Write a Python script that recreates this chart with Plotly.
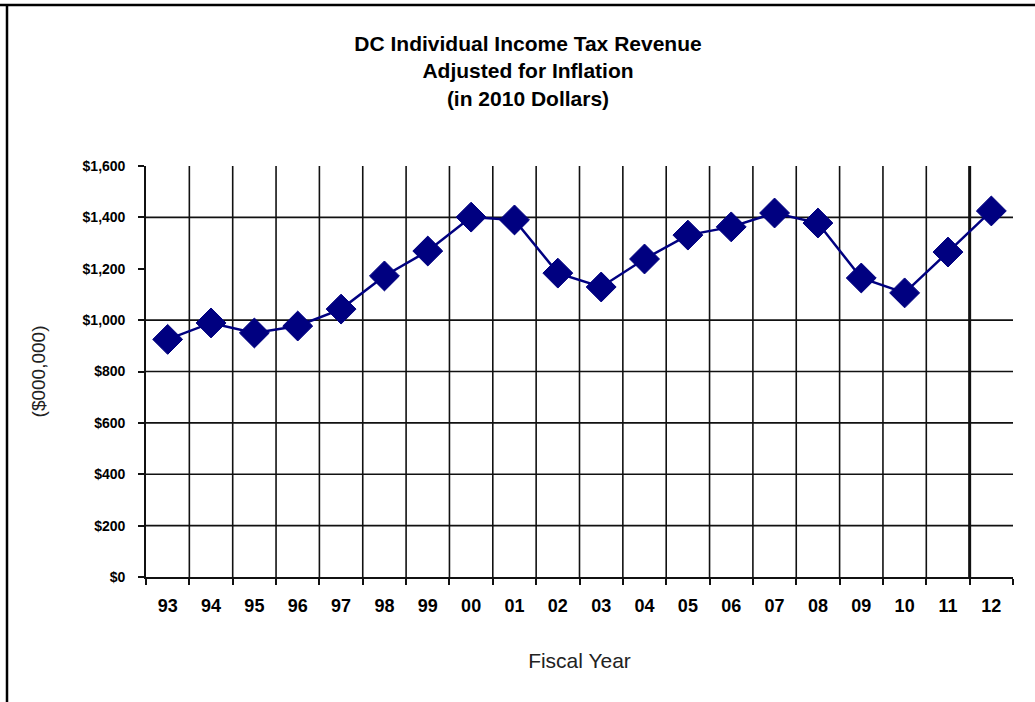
import plotly.graph_objects as go

years = ["93", "94", "95", "96", "97", "98", "99", "00", "01", "02",
         "03", "04", "05", "06", "07", "08", "09", "10", "11", "12"]
revenue = [925, 989, 950, 977, 1043, 1172, 1269, 1401, 1390, 1183,
           1129, 1238, 1331, 1363, 1417, 1378, 1164, 1106, 1265, 1425]
y_ticks = [0, 200, 400, 600, 800, 1000, 1200, 1400, 1600]
y_ticktext = ["$0", "$200", "$400", "$600", "$800", "$1,000", "$1,200", "$1,400", "$1,600"]
h_grid = [200, 400, 600, 800, 1000, 1400]

xs = list(range(len(years)))
FONT = "Liberation Sans, Arial, sans-serif"

fig = go.Figure()
fig.add_trace(go.Scatter(
    x=xs, y=revenue, mode="lines+markers",
    line=dict(color="#000080", width=2.5),
    marker=dict(symbol="diamond", size=23, color="#000080",
                line=dict(color="#000080", width=1)),
    showlegend=False, hoverinfo="skip"))

shapes = []
for v in h_grid:
    shapes.append(dict(type="line", xref="paper", yref="y", x0=0, x1=1, y0=v, y1=v,
                       line=dict(color="#111111", width=1.6), layer="below"))
for i in range(len(years) - 1):
    b = i + 0.5
    shapes.append(dict(type="line", xref="x", yref="paper", x0=b, x1=b, y0=0, y1=1,
                       line=dict(color="#111111", width=3 if i == len(years) - 2 else 1.6),
                       layer="below"))
# outer frame (top and left)
shapes.append(dict(type="line", xref="paper", yref="paper", x0=-146/867, x1=1.1,
                   y0=1 + 161/411, y1=1 + 161/411, line=dict(color="black", width=2.5)))
shapes.append(dict(type="line", xref="paper", yref="paper", x0=-139/867, x1=-139/867,
                   y0=1 + 161/411, y1=-0.4, line=dict(color="black", width=2.5)))

fig.update_layout(
    width=1035, height=702,
    margin=dict(l=146, r=22, t=166, b=125, autoexpand=False),
    paper_bgcolor="white", plot_bgcolor="white",
    font=dict(family=FONT, color="black"),
    title=dict(text="<b>DC Individual Income Tax Revenue<br>Adjusted for Inflation<br>(in 2010 Dollars)</b>",
               x=528/1035, xanchor="center", xref="container",
               y=1 - 51/702, yanchor="top",
               font=dict(size=21, family=FONT, color="black")),
    xaxis=dict(range=[-0.5, len(years) - 0.5], tickvals=xs, ticktext=years,
               ticks="", showgrid=False, zeroline=False,
               showline=True, linecolor="#111111", linewidth=1.6,
               tickfont=dict(size=18, family=FONT, color="black", weight="bold"),
               ticklabelstandoff=12,
               minor=dict(tickvals=[i - 0.5 for i in range(len(years) + 1)],
                          ticks="outside", ticklen=6, tickcolor="#111111", tickwidth=1.6,
                          showgrid=False),
               title=dict(text="Fiscal Year", standoff=38,
                          font=dict(size=21, family=FONT, color="#222222")),
               fixedrange=True),
    yaxis=dict(range=[0, 1600], tickvals=y_ticks, ticktext=y_ticktext,
               ticks="outside", ticklen=6, tickcolor="#111111", tickwidth=1.6,
               showgrid=False, zeroline=False,
               showline=True, linecolor="#111111", linewidth=1.6,
               tickfont=dict(size=14, family=FONT, color="black", weight="bold"),
               ticklabelstandoff=10,
               title=dict(text="($000,000)", standoff=32,
                          font=dict(size=19, family=FONT, color="#222222")),
               fixedrange=True),
    shapes=shapes,
)

fig.write_html("out.html", config={"displayModeBar": False},
               post_script="document.body.style.margin='0';")
